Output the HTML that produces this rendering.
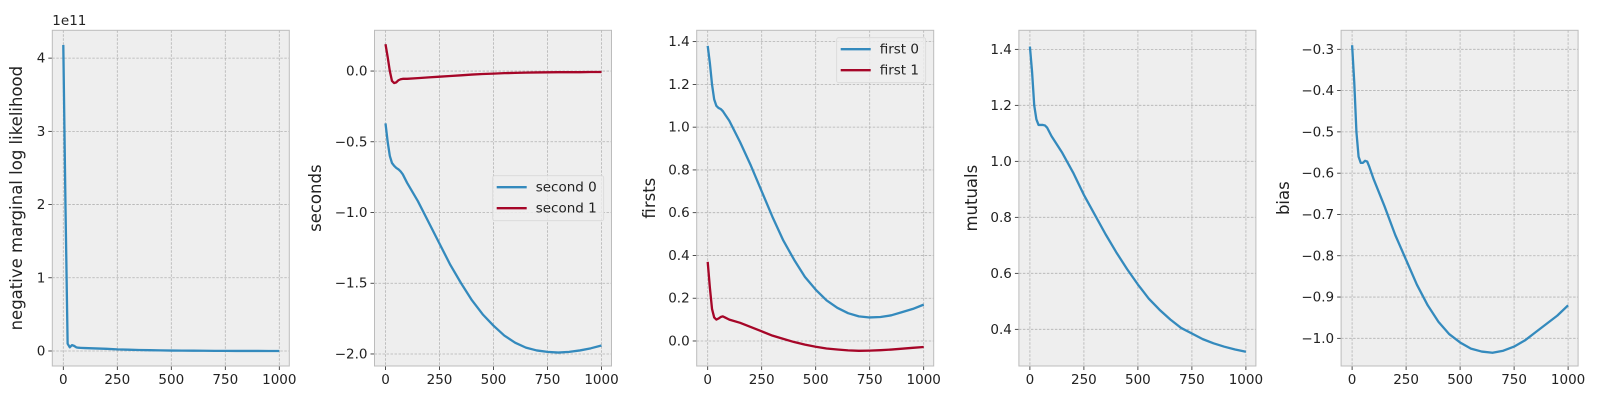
<!DOCTYPE html>
<html><head><meta charset="utf-8"><style>
body{margin:0;background:#fff}
svg text{font-family:"DejaVu Sans","Liberation Sans",sans-serif;fill:#222}
</style></head><body>
<svg id="chart" width="1600" height="400" xmlns="http://www.w3.org/2000/svg"></svg>
<script>
const iters = [0,10,20,30,40,50,60,70,80,100,150,200,250,300,350,400,450,500,550,600,650,700,750,800,850,900,950,1000];
const nmll = [4.18,2.0,0.1,0.05,0.08,0.07,0.05,0.045,0.043,0.04,0.035,0.03,0.022,0.018,0.014,0.011,0.008,0.006,0.005,0.004,0.003,0.002,0.002,0.001,0.001,0.0005,0.0003,0.0];
const second0 = [-0.37,-0.5,-0.6,-0.65,-0.67,-0.685,-0.695,-0.71,-0.73,-0.79,-0.92,-1.07,-1.22,-1.37,-1.5,-1.62,-1.72,-1.8,-1.87,-1.92,-1.955,-1.975,-1.985,-1.99,-1.985,-1.975,-1.96,-1.94];
const second1 = [0.19,0.1,0.0,-0.07,-0.085,-0.08,-0.065,-0.058,-0.055,-0.055,-0.05,-0.045,-0.04,-0.035,-0.03,-0.025,-0.021,-0.018,-0.015,-0.013,-0.011,-0.01,-0.009,-0.008,-0.008,-0.008,-0.007,-0.007];
const first0 = [1.38,1.3,1.2,1.13,1.1,1.09,1.085,1.075,1.06,1.03,0.93,0.82,0.7,0.58,0.47,0.38,0.3,0.24,0.19,0.155,0.13,0.115,0.11,0.112,0.12,0.135,0.15,0.17];
const first1 = [0.37,0.25,0.15,0.11,0.1,0.105,0.112,0.115,0.11,0.1,0.085,0.065,0.045,0.025,0.01,-0.005,-0.017,-0.027,-0.035,-0.04,-0.044,-0.046,-0.045,-0.043,-0.04,-0.036,-0.032,-0.028];
const mutuals = [1.41,1.32,1.2,1.15,1.13,1.13,1.13,1.128,1.12,1.09,1.03,0.96,0.88,0.81,0.74,0.675,0.615,0.56,0.51,0.47,0.435,0.405,0.385,0.365,0.35,0.338,0.328,0.32];
const bias = [-0.29,-0.38,-0.5,-0.56,-0.575,-0.575,-0.57,-0.572,-0.585,-0.615,-0.68,-0.75,-0.81,-0.87,-0.92,-0.96,-0.99,-1.01,-1.025,-1.032,-1.035,-1.03,-1.02,-1.005,-0.985,-0.965,-0.945,-0.92];
const xTicks = [0,250,500,750,1000];
const yTicks1 = [0,1,2,3,4];
const yTicks2 = [0.0,-0.5,-1.0,-1.5,-2.0];
const yTicks3 = [0.0,0.2,0.4,0.6,0.8,1.0,1.2,1.4];
const yTicks4 = [0.4,0.6,0.8,1.0,1.2,1.4];
const yTicks5 = [-0.3,-0.4,-0.5,-0.6,-0.7,-0.8,-0.9,-1.0];

const NS="http://www.w3.org/2000/svg";
const svg=document.getElementById('chart');
function mk(tag,attrs,parent){const e=document.createElementNS(NS,tag);for(const k in attrs)e.setAttribute(k,attrs[k]);(parent||svg).appendChild(e);return e;}
const BLUE="#348ABD",RED="#A60628";
const TOP=30.3,BOT=366,W=237;
const panels=[
 {left:52.3,ymin:-0.205,ymax:4.38,ticks:yTicks1,fmt:v=>String(v),label:"negative marginal log likelihood",series:[{d:nmll,c:BLUE,n:"nmll-line"}],labX:22,exp:true},
 {left:374.5,ymin:-2.085,ymax:0.288,ticks:yTicks2,fmt:v=>v.toFixed(1).replace('-','\u2212'),label:"seconds",series:[{d:second0,c:BLUE,n:"second-0-line"},{d:second1,c:RED,n:"second-1-line"}],labX:321,legend:{x:492.7,y:175.7,w:111,h:45,names:["second 0","second 1"]}},
 {left:696.7,ymin:-0.117,ymax:1.453,ticks:yTicks3,fmt:v=>v.toFixed(1),label:"firsts",series:[{d:first0,c:BLUE,n:"first-0-line"},{d:first1,c:RED,n:"first-1-line"}],labX:655,legend:{x:836.7,y:37.7,w:89,h:45,names:["first 0","first 1"]}},
 {left:1018.9,ymin:0.269,ymax:1.468,ticks:yTicks4,fmt:v=>v.toFixed(1),label:"mutuals",series:[{d:mutuals,c:BLUE,n:"mutuals-line"}],labX:977},
 {left:1341.1,ymin:-1.067,ymax:-0.254,ticks:yTicks5,fmt:v=>v.toFixed(1).replace('-','\u2212'),label:"bias",series:[{d:bias,c:BLUE,n:"bias-line"}],labX:1289}
];
panels.forEach((p,i)=>{
 const g=mk('g',{});
 
 
 const xs=v=>p.left+11+(v/1000)*216;
 const ys=v=>BOT-(v-p.ymin)/(p.ymax-p.ymin)*(BOT-TOP);
 const bg=mk('rect',{x:p.left,y:TOP,width:W,height:BOT-TOP,fill:"#eeeeee"},g);
 
 
 xTicks.forEach(t=>{
  const x=xs(t);
  mk('line',{x1:x,x2:x,y1:TOP,y2:BOT,stroke:"#b2b2b2","stroke-width":0.8,"stroke-dasharray":"2.5,1.5"},g);
  mk('line',{x1:x,x2:x,y1:BOT,y2:BOT+4,stroke:"#222","stroke-width":0.8},g);
  const tx=mk('text',{x:x,y:BOT+18,"font-size":13.5,"text-anchor":"middle"},g);tx.textContent=t;
  
  
 });
 p.ticks.forEach(t=>{
  const y=ys(t);
  mk('line',{x1:p.left,x2:p.left+W,y1:y,y2:y,stroke:"#b2b2b2","stroke-width":0.8,"stroke-dasharray":"2.5,1.5"},g);
  mk('line',{x1:p.left-4,x2:p.left,y1:y,y2:y,stroke:"#222","stroke-width":0.8},g);
  const tx=mk('text',{x:p.left-7,y:y+4.5,"font-size":13.5,"text-anchor":"end"},g);tx.textContent=p.fmt(t);
  
  
 });
 p.series.forEach(s=>{
  const pts=iters.map((x,k)=>xs(x).toFixed(2)+","+ys(s.d[k]).toFixed(2)).join(" ");
  const pl=mk('polyline',{points:pts,fill:"none",stroke:s.c,"stroke-width":2.3,"stroke-linejoin":"round"},g);
  
  
 });
 const bd=mk('rect',{x:p.left,y:TOP,width:W,height:BOT-TOP,fill:"none",stroke:"#bcbcbc","stroke-width":1},g);
 
 
 const cy=(TOP+BOT)/2;
 const lab=mk('text',{x:p.labX,y:cy,"font-size":16.5,"text-anchor":"middle",transform:`rotate(-90 ${p.labX} ${cy})`},g);
 lab.textContent=p.label;
 
 
 if(p.exp){const e=mk('text',{x:p.left,y:25,"font-size":13.5},g);e.textContent="1e11";
  
  }
 if(p.legend){const L=p.legend;
  const lg=mk('g',{},g);
  
  
  mk('rect',{x:L.x,y:L.y,width:L.w,height:L.h,rx:2,fill:"#eeeeee",stroke:"#d8d8d8","stroke-width":0.8,"fill-opacity":0.8},lg);
  L.names.forEach((n,k)=>{const yy=L.y+11.5+k*21;
   mk('line',{x1:L.x+4,x2:L.x+34,y1:yy,y2:yy,stroke:p.series[k].c,"stroke-width":2.3},lg);
   const t=mk('text',{x:L.x+43,y:yy+4.5,"font-size":13.5},lg);t.textContent=n;
   
   
  });
 }
});
</script>
</body></html>
